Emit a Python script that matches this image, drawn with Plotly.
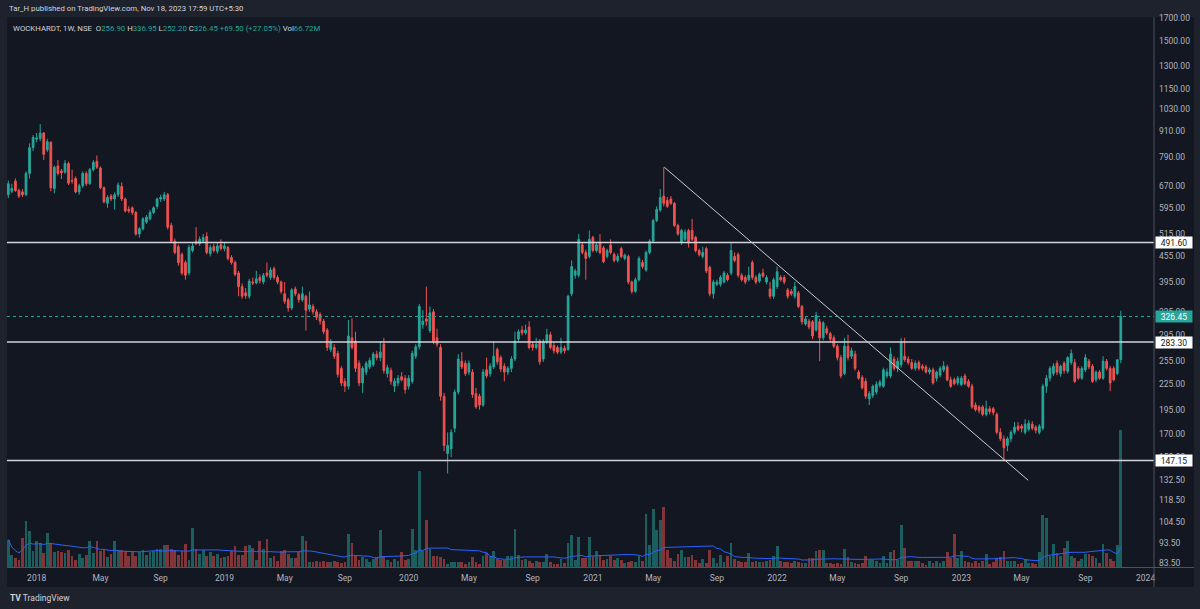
import math
import pandas as pd
import plotly.graph_objects as go

# ---------------- data ----------------
published = "Tar_H published on TradingView.com, Nov 18, 2023 17:59 UTC+5:30"
symbol_line = "WOCKHARDT, 1W, NSE"
first_week = "2017-11-06"

opens = [
    640, 652, 690, 655, 650, 640, 720, 830, 870, 872,
    900, 820, 855, 662, 750, 730, 725, 760, 692, 700,
    650, 672, 720, 680, 735, 770, 742, 665, 610, 635,
    625, 640, 670, 625, 590, 595, 580, 515, 530, 550,
    560, 580, 600, 625, 625, 640, 540, 495, 480, 460,
    440, 415, 470, 495, 488, 495, 508, 462, 480, 468,
    485, 475, 478, 452, 440, 415, 385, 372, 365, 395,
    393, 405, 395, 415, 405, 425, 405, 395, 370, 358,
    342, 380, 368, 358, 365, 340, 345, 335, 330, 318,
    303, 272, 275, 266, 245, 228, 222, 290, 285, 252,
    226, 240, 247, 250, 265, 260, 280, 238, 242, 222,
    226, 234, 232, 222, 228, 262, 276, 312, 322, 302,
    335, 290, 275, 210, 153, 157, 176, 215, 255, 252,
    240, 240, 213, 210, 200, 243, 238, 247, 272, 260,
    248, 240, 245, 258, 288, 303, 298, 308, 280, 275,
    285, 258, 283, 295, 278, 275, 268, 274, 272, 370,
    410, 410, 485, 465, 455, 505, 470, 490, 477, 455,
    485, 460, 445, 475, 450, 455, 395, 375, 400, 440,
    422, 465, 495, 555, 588, 635, 620, 625, 610, 540,
    490, 500, 525, 525, 505, 470, 455, 475, 428, 370,
    390, 390, 395, 410, 415, 455, 460, 410, 405, 400,
    440, 405, 397, 415, 395, 380, 365, 385, 405, 405,
    378, 375, 365, 372, 345, 313, 318, 317, 303, 317,
    290, 305, 297, 290, 277, 260, 238, 277, 262, 265,
    240, 233, 228, 207, 211, 215, 223, 222, 235, 235,
    258, 245, 250, 262, 258, 253, 245, 253, 248, 247,
    240, 243, 232, 236, 243, 247, 230, 230, 226, 224,
    235, 228, 222, 200, 198, 198, 190, 196, 196, 190,
    172, 166, 160, 166, 172, 178, 178, 172, 175, 180,
    177, 172, 176, 222, 232, 238, 252, 238, 252, 241,
    253, 253, 245, 232, 243, 255, 248, 230, 240, 232,
    255, 245, 245, 238, 256.90,
]

highs = [
    692, 680, 700, 662, 660, 728, 850, 890, 900, 945,
    905, 872, 860, 752, 775, 738, 775, 768, 735, 708,
    680, 728, 728, 742, 775, 795, 748, 670, 638, 642,
    648, 685, 685, 630, 600, 600, 585, 535, 565, 572,
    588, 600, 630, 640, 650, 646, 548, 502, 486, 465,
    445, 485, 490, 535, 508, 515, 520, 485, 488, 490,
    500, 492, 482, 458, 445, 420, 392, 382, 402, 405,
    420, 412, 415, 440, 428, 430, 410, 398, 395, 362,
    382, 385, 372, 385, 368, 375, 350, 340, 334, 322,
    306, 288, 280, 270, 248, 232, 320, 323, 300, 256,
    248, 255, 260, 268, 270, 285, 290, 250, 246, 232,
    236, 240, 236, 236, 270, 280, 350, 338, 385, 345,
    340, 305, 280, 214, 172, 175, 218, 265, 268, 256,
    256, 244, 220, 213, 244, 260, 252, 285, 275, 263,
    252, 248, 262, 300, 304, 310, 312, 318, 284, 290,
    288, 288, 305, 300, 282, 278, 290, 278, 368, 445,
    425, 515, 490, 472, 525, 510, 492, 515, 482, 475,
    500, 465, 462, 480, 462, 460, 398, 405, 455, 446,
    470, 500, 560, 600, 660, 745, 632, 635, 615, 545,
    530, 528, 530, 560, 510, 475, 480, 480, 432, 400,
    400, 410, 420, 415, 490, 465, 465, 415, 410, 430,
    445, 410, 416, 425, 410, 395, 405, 430, 410, 410,
    382, 380, 395, 376, 348, 326, 322, 320, 335, 322,
    318, 310, 300, 294, 280, 264, 290, 295, 275, 270,
    243, 236, 232, 216, 224, 228, 230, 246, 245, 275,
    262, 260, 290, 290, 262, 258, 256, 256, 251, 250,
    246, 246, 242, 248, 255, 250, 234, 233, 235, 235,
    238, 231, 225, 203, 200, 200, 205, 199, 198, 192,
    176, 169, 168, 174, 182, 182, 180, 185, 184, 183,
    179, 180, 225, 236, 248, 252, 256, 250, 255, 262,
    272, 258, 248, 248, 265, 258, 251, 242, 243, 262,
    258, 248, 248, 258, 336.95,
]

lows = [
    628, 645, 650, 628, 632, 635, 700, 815, 855, 860,
    775, 810, 652, 645, 712, 698, 718, 675, 680, 645,
    640, 665, 672, 676, 728, 738, 660, 610, 595, 618,
    590, 632, 618, 580, 578, 572, 510, 505, 525, 545,
    555, 575, 592, 615, 618, 528, 490, 460, 432, 410,
    400, 410, 465, 485, 482, 490, 460, 455, 465, 462,
    470, 468, 445, 435, 408, 365, 360, 360, 360, 388,
    390, 392, 390, 405, 400, 400, 390, 370, 350, 335,
    338, 365, 352, 354, 302, 335, 330, 320, 312, 296,
    270, 268, 258, 233, 222, 215, 218, 272, 240, 222,
    214, 236, 244, 247, 256, 255, 238, 233, 224, 215,
    222, 228, 213, 218, 225, 258, 272, 305, 310, 298,
    280, 276, 205, 155, 137, 150, 172, 212, 244, 235,
    236, 208, 196, 195, 198, 232, 234, 244, 250, 240,
    228, 236, 240, 255, 284, 294, 295, 272, 270, 272,
    250, 254, 280, 272, 266, 265, 265, 266, 270, 365,
    402, 405, 460, 400, 450, 465, 465, 460, 438, 450,
    460, 440, 440, 450, 445, 390, 370, 372, 396, 425,
    418, 460, 490, 550, 582, 600, 595, 605, 535, 510,
    485, 495, 478, 495, 465, 455, 450, 415, 365, 360,
    386, 385, 392, 396, 410, 440, 405, 396, 390, 396,
    400, 390, 393, 404, 390, 360, 360, 380, 396, 390,
    360, 366, 360, 342, 312, 310, 304, 288, 300, 255,
    286, 295, 284, 274, 256, 232, 236, 256, 258, 242,
    230, 218, 207, 200, 208, 212, 220, 220, 232, 232,
    242, 240, 246, 254, 250, 243, 242, 242, 242, 238,
    237, 224, 228, 233, 240, 228, 220, 223, 223, 222,
    223, 220, 196, 193, 191, 188, 188, 190, 189, 170,
    164, 147.5, 155, 163, 170, 173, 172, 170, 173, 174,
    171, 170, 174, 214, 228, 235, 236, 234, 238, 238,
    250, 226, 230, 230, 240, 244, 226, 227, 230, 230,
    242, 216, 228, 236, 252.20,
]

closes = [
    680, 662, 655, 635, 640, 720, 830, 878, 876, 900,
    800, 858, 665, 745, 720, 722, 760, 682, 690, 650,
    672, 720, 680, 735, 765, 745, 665, 615, 630, 625,
    640, 675, 625, 585, 585, 580, 515, 530, 560, 565,
    580, 595, 625, 630, 640, 535, 495, 465, 440, 415,
    410, 478, 482, 488, 500, 505, 465, 478, 470, 482,
    475, 482, 450, 440, 412, 385, 365, 366, 397, 393,
    402, 398, 410, 410, 422, 405, 395, 375, 355, 342,
    378, 370, 358, 370, 338, 348, 335, 325, 318, 300,
    275, 283, 262, 237, 226, 222, 293, 275, 245, 226,
    245, 252, 256, 265, 260, 268, 242, 246, 228, 228,
    232, 230, 218, 232, 266, 276, 345, 318, 318, 333,
    285, 280, 210, 160, 160, 172, 215, 258, 247, 238,
    252, 212, 198, 200, 240, 235, 248, 262, 254, 244,
    240, 245, 258, 285, 300, 298, 303, 275, 275, 280,
    254, 285, 295, 275, 270, 268, 275, 270, 365, 430,
    420, 500, 465, 450, 500, 470, 485, 465, 442, 470,
    465, 445, 455, 455, 458, 395, 375, 400, 450, 430,
    465, 495, 555, 590, 630, 610, 600, 610, 540, 515,
    525, 520, 490, 500, 470, 460, 465, 420, 370, 395,
    395, 405, 415, 400, 470, 445, 410, 400, 395, 410,
    405, 395, 412, 408, 405, 365, 400, 418, 400, 395,
    365, 370, 385, 345, 317, 322, 308, 293, 328, 290,
    315, 298, 288, 277, 260, 235, 277, 260, 270, 245,
    232, 220, 210, 213, 222, 224, 227, 243, 240, 265,
    245, 255, 283, 257, 253, 245, 252, 245, 245, 240,
    243, 226, 240, 245, 248, 230, 222, 225, 232, 232,
    225, 222, 198, 195, 194, 190, 196, 193, 192, 172,
    166, 158, 166, 172, 177, 175, 176, 180, 181, 176,
    174, 178, 222, 232, 245, 248, 240, 248, 242, 260,
    266, 228, 232, 245, 260, 247, 228, 240, 232, 255,
    245, 226, 230, 256.95, 326.45,
]

volumes_m = [
    13.4, 6.0, 4.4, 3.6, 14.2, 22.4, 17.5, 7.7, 12.6, 11.8,
    6.9, 16.7, 11.8, 7.2, 8.0, 7.2, 6.9, 8.5, 5.6, 3.3,
    6.5, 4.4, 6.0, 12.9, 6.9, 12.6, 7.7, 8.5, 4.9, 6.5,
    12.6, 8.2, 8.2, 7.7, 5.6, 7.2, 5.6, 7.2, 8.2, 6.0,
    7.2, 7.7, 8.8, 8.8, 10.5, 10.5, 8.8, 8.5, 6.0, 7.7,
    11.0, 3.3, 19.0, 8.8, 6.5, 8.5, 5.6, 7.2, 5.6, 6.5,
    4.4, 4.9, 5.2, 7.7, 10.0, 6.0, 6.0, 10.0, 10.6, 9.3,
    3.6, 12.6, 8.8, 13.7, 4.2, 5.2, 3.1, 7.7, 8.2, 6.5,
    4.4, 4.4, 7.2, 15.0, 12.9, 2.6, 2.6, 2.7, 2.5, 2.7,
    2.6, 2.3, 3.1, 2.6, 2.0, 2.3, 16.3, 11.8, 5.2, 3.6,
    4.7, 4.1, 2.3, 4.1, 4.9, 17.8, 5.6, 3.3, 2.6, 3.9,
    3.1, 7.2, 3.3, 4.0, 18.3, 8.5, 47.0, 7.7, 22.9, 8.8,
    5.2, 5.2, 4.7, 3.9, 1.6, 2.6, 2.6, 2.6, 2.6, 1.5,
    2.3, 4.9, 2.6, 1.5, 5.2, 6.9, 5.6, 8.0, 3.9, 3.6,
    3.6, 5.6, 5.6, 18.6, 6.0, 3.6, 4.1, 2.8, 2.0, 3.1,
    2.3, 2.3, 6.5, 2.3, 1.6, 1.6, 3.9, 2.0, 11.8, 15.4,
    3.6, 14.7, 4.2, 4.2, 14.7, 5.2, 7.7, 6.0, 3.6, 3.9,
    5.6, 3.6, 4.4, 3.6, 2.0, 2.3, 2.8, 2.3, 5.2, 2.8,
    26.0, 10.5, 28.1, 18.0, 22.7, 29.4, 8.5, 4.4, 2.8, 6.4,
    8.5, 4.7, 4.7, 6.0, 3.3, 2.0, 3.9, 2.0, 8.5, 4.4,
    2.0, 5.9, 2.3, 5.2, 11.8, 3.9, 3.1, 2.6, 2.3, 6.9,
    2.6, 2.9, 2.3, 2.6, 2.9, 3.6, 5.2, 10.1, 3.1, 2.3,
    2.3, 2.0, 3.1, 2.3, 2.0, 2.0, 4.4, 4.4, 8.0, 8.5,
    8.5, 2.0, 2.0, 1.6, 2.0, 1.6, 9.0, 4.7, 2.3, 2.0,
    1.6, 2.0, 5.2, 3.6, 3.6, 2.8, 2.0, 5.2, 2.0, 7.4,
    8.5, 3.6, 20.3, 9.3, 2.8, 3.1, 3.1, 3.1, 2.0, 1.1,
    3.1, 2.0, 3.1, 2.0, 3.1, 7.2, 4.4, 16.3, 4.4, 8.0,
    2.8, 2.3, 2.0, 2.8, 2.0, 3.1, 6.4, 1.6, 2.3, 4.4,
    4.7, 7.7, 3.1, 3.1, 3.1, 1.6, 2.0, 3.9, 2.0, 2.0,
    1.6, 7.2, 25.3, 24.0, 5.6, 11.4, 6.9, 5.2, 9.3, 12.9,
    5.2, 4.4, 2.8, 3.9, 6.4, 6.4, 5.6, 4.4, 2.0, 11.4,
    6.9, 3.9, 2.8, 10.5, 66.72,
]

levels = [491.60, 283.30, 147.15]
trend_dates = ["2021-05-25", "2023-05-14"]
trend_prices = [745, 132]

price_ticks = [1700, 1500, 1300, 1150, 1030, 910, 790, 670, 595, 515, 455, 395,
               335, 295, 255, 225, 195, 170, 150, 132.5, 118.5, 104.5, 93.5, 83.5]

time_tick_dates = ["2018-01-01", "2018-05-07", "2018-09-03", "2019-01-07", "2019-05-06",
                   "2019-09-02", "2020-01-06", "2020-05-04", "2020-09-07", "2021-01-04",
                   "2021-05-03", "2021-09-06", "2022-01-03", "2022-05-02", "2022-09-05",
                   "2023-01-02", "2023-05-01", "2023-09-04", "2024-01-01"]
time_tick_labels = ["2018", "May", "Sep", "2019", "May", "Sep", "2020", "May", "Sep",
                    "2021", "May", "Sep", "2022", "May", "Sep", "2023", "May", "Sep", "2024"]

# ---------------- derived ----------------
n = len(closes)
assert all(len(a) == n for a in (opens, highs, lows, volumes_m)), [len(a) for a in (opens, highs, lows, closes, volumes_m)]
dates = pd.date_range(first_week, periods=n, freq="7D")

UP, DOWN = "#26a69a", "#ef5350"
vol_colors = ["rgba(38,166,154,0.5)" if c >= o else "rgba(239,83,80,0.5)" for o, c in zip(opens, closes)]
vol_ma = pd.Series(volumes_m).rolling(20, min_periods=1).mean()

W, H = 1200, 609
L, R, T, B = 7, 46, 17, 42
pw, ph = W - L - R, H - T - B


def px(x):
    return (x - L) / pw


def py(y):
    return (H - B - y) / ph


x_range = ["2017-11-03 10:00", "2024-01-17 14:00"]
price_range = [1.91227, 3.2328]
vol_range = [0, 268]
FONT = "Roboto, Liberation Sans, sans-serif"

fig = go.Figure()
fig.add_trace(go.Bar(x=dates, y=volumes_m, yaxis="y", marker=dict(color=vol_colors, line=dict(width=0)),
                     width=7 * 24 * 3600 * 1000 * 0.78, hoverinfo="skip"))
fig.add_trace(go.Scatter(x=dates, y=vol_ma, yaxis="y", mode="lines",
                         line=dict(color="#2962ff", width=1), hoverinfo="skip"))
fig.add_trace(go.Candlestick(
    x=dates, open=opens, high=highs, low=lows, close=closes, yaxis="y2",
    increasing=dict(line=dict(color=UP, width=1), fillcolor=UP),
    decreasing=dict(line=dict(color=DOWN, width=1), fillcolor=DOWN),
    whiskerwidth=0))
for lv in levels:
    fig.add_trace(go.Scatter(x=x_range, y=[lv, lv], yaxis="y2", mode="lines",
                             line=dict(color="#d1d4dc", width=1.5), hoverinfo="skip"))
fig.add_trace(go.Scatter(x=x_range, y=[closes[-1], closes[-1]], yaxis="y2", mode="lines",
                         line=dict(color=UP, width=1, dash="dot"), hoverinfo="skip"))
fig.add_trace(go.Scatter(x=trend_dates, y=trend_prices, yaxis="y2", mode="lines",
                         line=dict(color="#c9cbd1", width=1), hoverinfo="skip"))

shapes = [
    dict(type="rect", xref="paper", yref="paper", x0=px(7), x1=px(1194), y0=py(587), y1=py(17),
         fillcolor="#131722", line=dict(width=0), layer="below"),
    dict(type="line", xref="paper", yref="paper", x0=px(1154), x1=px(1154), y0=py(587), y1=py(17),
         line=dict(color="#4c525e", width=1)),
    dict(type="line", xref="paper", yref="paper", x0=px(7), x1=px(1194), y0=py(567.5), y1=py(567.5),
         line=dict(color="#4c525e", width=1)),
]


def teal(s):
    return f'<span style="color:{UP}">{s}</span>'


o, h, l, c = opens[-1], highs[-1], lows[-1], closes[-1]
chg = c - closes[-2]
pct = chg / closes[-2] * 100
legend_text = (f'{symbol_line}&nbsp;&nbsp;O{teal(f"{o:.2f}")}&nbsp;H{teal(f"{h:.2f}")}'
               f'&nbsp;L{teal(f"{l:.2f}")}&nbsp;C{teal(f"{c:.2f}")}&nbsp;{teal(f"{chg:+.2f} ({pct:+.2f}%)")}'
               f'&nbsp;Vol{teal(f"{volumes_m[-1]:.2f}M")}')

annotations = [
    dict(xref="paper", yref="paper", x=px(7), y=py(9), xanchor="left", yanchor="middle", showarrow=False,
         text=published, font=dict(family=FONT, size=7.8, color="#d1d4dc")),
    dict(xref="paper", yref="paper", x=px(11), y=py(28), xanchor="left", yanchor="middle", showarrow=False,
         text=legend_text, font=dict(family=FONT, size=7.8, color="#d1d4dc")),
    dict(xref="paper", yref="paper", x=px(8), y=py(598), xanchor="left", yanchor="middle", showarrow=False,
         text="<b>TV</b> TradingView", font=dict(family=FONT, size=8.5, color="#d1d4dc")),
]
for lv in levels:
    annotations.append(dict(xref="paper", yref="y2", x=px(1155), y=math.log10(lv), xanchor="left",
                            yanchor="middle", showarrow=False, text=f"{lv:.2f}", bgcolor="#ffffff",
                            width=36, height=11, borderpad=0,
                            font=dict(family=FONT, size=8.5, color="#131722")))
annotations.append(dict(xref="paper", yref="y2", x=px(1155), y=math.log10(closes[-1]), xanchor="left",
                        yanchor="middle", showarrow=False, text=f"{closes[-1]:.2f}", bgcolor=UP,
                        width=36, height=11, borderpad=0,
                        font=dict(family=FONT, size=8.5, color="#ffffff")))

fig.update_layout(
    width=W, height=H, margin=dict(l=L, r=R, t=T, b=B, pad=0),
    paper_bgcolor="#1e222d", plot_bgcolor="#131722",
    showlegend=False, bargap=0, boxgap=0.3,
    font=dict(family=FONT, size=9, color="#b2b5be"),
    xaxis=dict(type="date", range=x_range, rangeslider=dict(visible=False), showgrid=False,
               zeroline=False, showline=False, ticks="", tickmode="array",
               tickvals=time_tick_dates, ticktext=time_tick_labels,
               tickfont=dict(family=FONT, size=8.5, color="#b2b5be"), ticklabelstandoff=4,
               fixedrange=True),
    yaxis=dict(range=vol_range, visible=False, fixedrange=True),
    yaxis2=dict(type="log", range=price_range, overlaying="y", side="right", showgrid=False,
                zeroline=False, showline=False, ticks="", tickmode="array", tickvals=price_ticks,
                ticktext=[f"{v:.2f}" for v in price_ticks],
                tickfont=dict(family=FONT, size=8.5, color="#b2b5be"), ticklabelstandoff=4,
                fixedrange=True),
    shapes=shapes, annotations=annotations,
)

fig.write_html("out.html")
